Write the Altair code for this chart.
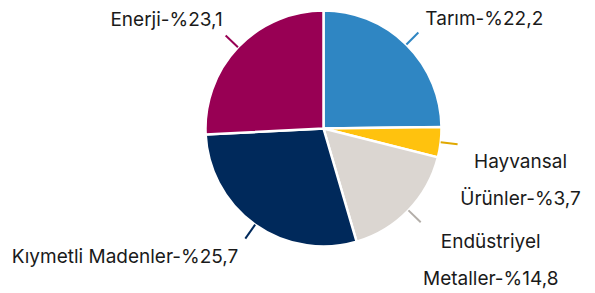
import altair as alt
import pandas as pd

categories = ["Tarım", "Hayvansal Ürünler", "Endüstriyel Metaller", "Kıymetli Madenler", "Enerji"]
values = [22.2, 3.7, 14.8, 25.7, 23.1]
labels = ["Tarım-%22,2", "Hayvansal\nÜrünler-%3,7", "Endüstriyel\nMetaller-%14,8",
          "Kıymetli Madenler-%25,7", "Enerji-%23,1"]

# styling
colors = ["#2f86c3", "#ffc20e", "#dbd6d1", "#00295b", "#980054"]
line_colors = ["#2f86c3", "#e0a800", "#b3aea9", "#00295b", "#980054"]
label_dx = [7, 63, 70, -7, -3]
label_dy = [-13.5, 17.7, 19.4, 18.5, -15.5]
label_align = ["left", "center", "center", "right", "right"]

CX, CY, R = 315.5, 120.5, 118
R1, R2 = 118, 135

df = pd.DataFrame({
    "cat": categories,
    "value": values,
    "label": labels,
    "order": list(range(len(categories))),
    "lcolor": line_colors,
    "ldx": label_dx,
    "ldy": label_dy,
    "align": label_align,
})

base = alt.Chart(df).transform_joinaggregate(
    total="sum(value)"
).transform_window(
    cum="sum(value)", sort=[alt.SortField("order")], frame=[None, 0]
).transform_calculate(
    mid="(datum.cum - datum.value/2)/datum.total*2*PI"
).transform_calculate(
    x1=f"{CX} + {R1}*sin(datum.mid)",
    y1=f"{CY} - {R1}*cos(datum.mid)",
    x2=f"{CX} + {R2}*sin(datum.mid)",
    y2=f"{CY} - {R2}*cos(datum.mid)",
).transform_calculate(
    lx="datum.x2 + datum.ldx",
    ly="datum.y2 + datum.ldy",
)

pie = alt.Chart(df).mark_arc(
    outerRadius=R, stroke="white", strokeWidth=2.5
).encode(
    theta=alt.Theta("value:Q", stack=True),
    order=alt.Order("order:Q"),
    color=alt.Color("cat:N", scale=alt.Scale(domain=categories, range=colors), legend=None),
    x=alt.value(CX),
    y=alt.value(CY),
)

lines = base.mark_rule(strokeWidth=2).encode(
    x=alt.X("x1:Q", scale=None),
    y=alt.Y("y1:Q", scale=None),
    x2="x2:Q",
    y2="y2:Q",
    color=alt.Color("lcolor:N", scale=None),
)

def text_layer(al):
    return base.transform_filter(f"datum.align == '{al}'").mark_text(
        align=al, baseline="middle", font="Inter", fontSize=19,
        color="#1a1a1a", lineBreak="\n", lineHeight=37
    ).encode(
        x=alt.X("lx:Q", scale=None),
        y=alt.Y("ly:Q", scale=None),
        text="label:N",
    )

chart = alt.layer(
    pie, lines, text_layer("left"), text_layer("center"), text_layer("right")
).properties(
    width=579, height=282, padding=0, autosize=alt.AutoSizeParams(type="none")
).configure_view(stroke=None)

chart.save("out.html", embed_options={"renderer": "svg", "actions": False})
